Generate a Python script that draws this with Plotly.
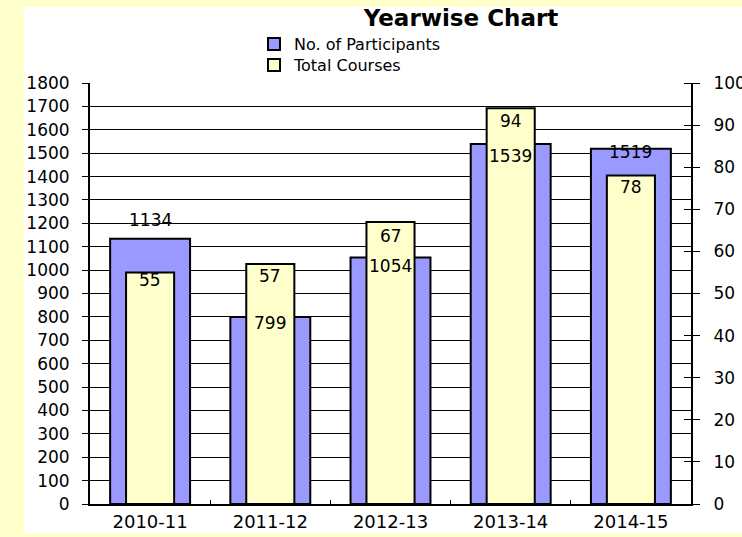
import plotly.graph_objects as go

years = ["2010-11", "2011-12", "2012-13", "2013-14", "2014-15"]
participants = [1134, 799, 1054, 1539, 1519]
courses = [55, 57, 67, 94, 78]
left_ticks = list(range(0, 1801, 100))
right_ticks = list(range(0, 101, 10))

# label offsets (pixels, relative to bar top), style only
part_label_shift = [19, -6, -9, -12, -3]
course_label_shift = [-8, -12, -14, -13, -11]

FONT = "DejaVu Sans"
W, H = 742, 537
L, R, T, B = 90, 51, 83, 33
PW, PH = W - L - R, H - T - B

def px_x(p):
    return (p - L) / PW

def px_y(p):
    return (H - B - p) / PH

fig = go.Figure()
fig.add_trace(go.Bar(
    x=years, y=participants, name="No. of Participants", yaxis="y", legend="legend",
    width=0.665, marker=dict(color="#9999FF", line=dict(color="black", width=2)),
))
fig.add_trace(go.Bar(
    x=years, y=courses, name="Total Courses", yaxis="y2", legend="legend2",
    width=0.40, marker=dict(color="#FFFFCC", line=dict(color="black", width=2)),
))

annotations = []
for yr, v, s in zip(years, participants, part_label_shift):
    annotations.append(dict(x=yr, y=v, xref="x", yref="y", text=str(v), showarrow=False,
                            yanchor="middle", yshift=s, font=dict(family=FONT, size=17, color="black")))
for yr, v, s in zip(years, courses, course_label_shift):
    annotations.append(dict(x=yr, y=v, xref="x", yref="y2", text=str(v), showarrow=False,
                            yanchor="middle", yshift=s, font=dict(family=FONT, size=17, color="black")))

legend_style = dict(xanchor="left", yanchor="middle", bgcolor="rgba(0,0,0,0)",
                    borderwidth=0, font=dict(family=FONT, size=16, color="black"))

fig.update_layout(
    width=W, height=H,
    margin=dict(l=L, r=R, t=T, b=B, autoexpand=False),
    paper_bgcolor="#FFFFCC",
    plot_bgcolor="#C0C0C0",
    barmode="overlay",
    font=dict(family=FONT, size=17, color="black"),
    title=dict(text="<b>Yearwise Chart</b>", x=px_x(461), xref="paper", xanchor="center",
               y=1 - 18 / H, yref="container", yanchor="middle",
               font=dict(family=FONT, size=23, color="black")),
    showlegend=True,
    legend=dict(x=px_x(254), y=px_y(44), **legend_style),
    legend2=dict(x=px_x(254), y=px_y(65), **legend_style),
    xaxis=dict(
        type="category", showgrid=False, showline=True, linecolor="black", linewidth=2,
        ticks="inside", tickson="boundaries", ticklen=4, tickcolor="black",
        tickfont=dict(family=FONT, size=18), automargin=False,
    ),
    yaxis=dict(
        range=[0, 1800], tickvals=left_ticks, showgrid=True, gridcolor="black", gridwidth=1,
        showline=True, linecolor="black", linewidth=2, ticks="outside", ticklen=6,
        tickcolor="black", ticklabelstandoff=9, tickfont=dict(family=FONT, size=17),
        zeroline=False, automargin=False,
    ),
    yaxis2=dict(
        range=[0, 100], tickvals=right_ticks, overlaying="y", side="right", showgrid=False,
        showline=True, linecolor="black", linewidth=2, ticks="outside", ticklen=7,
        tickcolor="black", ticklabelstandoff=10, tickfont=dict(family=FONT, size=17),
        minor=dict(ticks="inside", tickvals=right_ticks, ticklen=7, tickcolor="black", showgrid=False),
        zeroline=False, automargin=False,
    ),
    annotations=annotations,
    shapes=[dict(type="rect", xref="paper", yref="paper",
                 x0=px_x(24), x1=2.0, y0=px_y(533), y1=px_y(7),
                 fillcolor="white", line=dict(width=0), layer="below")],
)

fig.write_html(
    "out.html",
    config={"displayModeBar": False},
    post_script="document.body.style.margin='0';document.body.style.overflow='hidden';",
)
